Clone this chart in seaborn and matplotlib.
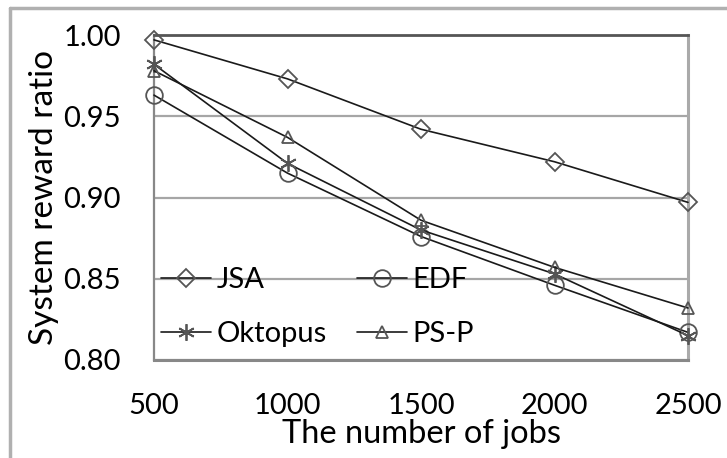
import matplotlib
matplotlib.use("Agg")
import matplotlib.pyplot as plt
import seaborn as sns
import pandas as pd
from matplotlib.lines import Line2D

jobs = [500, 1000, 1500, 2000, 2500]
jsa = [0.997, 0.973, 0.942, 0.922, 0.897]
edf = [0.963, 0.915, 0.876, 0.846, 0.817]
oktopus = [0.982, 0.921, 0.880, 0.853, 0.815]
psp = [0.978, 0.937, 0.886, 0.857, 0.832]

series = {"JSA": jsa, "EDF": edf, "Oktopus": oktopus, "PS-P": psp}
markers = {"JSA": "D", "EDF": "o", "Oktopus": (6, 2, 0), "PS-P": "^"}
msizes = {"JSA": 9, "EDF": 12, "Oktopus": 12, "PS-P": 9}

rows = []
for name, vals in series.items():
    for j, v in zip(jobs, vals):
        rows.append({"jobs": j, "ratio": v, "series": name})
df = pd.DataFrame(rows)

sns.set_theme(style="white")
plt.rcParams["font.family"] = ["Lato", "DejaVu Sans"]

fig = plt.figure(figsize=(7.27, 4.58), dpi=100)
ax = fig.add_axes([154 / 727, 1 - 360 / 458, (688 - 154) / 727, (360 - 35) / 458])

for name in series:
    sub = df[df["series"] == name]
    sns.lineplot(data=sub, x="jobs", y="ratio", ax=ax, color="#1a1a1a", lw=1.2,
                 marker=markers[name], markersize=msizes[name], mfc="none",
                 mec="#555555", mew=1.3, label=name, clip_on=False, zorder=3)

ax.set_xlim(500, 2500)
ax.set_ylim(0.80, 1.00)
ax.set_xticks(jobs)
ax.set_yticks([0.80, 0.85, 0.90, 0.95, 1.00])
ax.set_yticklabels(["0.80", "0.85", "0.90", "0.95", "1.00"])
ax.yaxis.grid(True, color="#a6a6a6", lw=1.6)
ax.set_axisbelow(True)
ax.tick_params(axis="x", direction="in", length=6, width=1.5, color="#c0c0c0",
               pad=24, labelsize=21, labelcolor="black")
ax.tick_params(axis="y", length=0, pad=24, labelsize=21, labelcolor="black")

for s, c, w in [("left", "#888888", 1.6), ("bottom", "#888888", 2.2),
                ("right", "#aaaaaa", 2.2), ("top", "#555555", 2.0)]:
    ax.spines[s].set_visible(True)
    ax.spines[s].set_color(c)
    ax.spines[s].set_linewidth(w)

ax.set_xlabel("The number of jobs", fontsize=23.5, color="black", labelpad=0)
ax.set_ylabel("System reward ratio", fontsize=24, color="black", labelpad=3)

handles, labels = ax.get_legend_handles_labels()
order = [labels.index(n) for n in ["JSA", "Oktopus", "EDF", "PS-P"]]
leg = ax.legend([handles[i] for i in order], [labels[i] for i in order],
                ncol=2, loc="lower left", bbox_to_anchor=(-0.025, -0.022),
                frameon=False, fontsize=21, handlelength=1.7, handletextpad=0.2,
                columnspacing=1.05, labelspacing=0.95, borderpad=0.2)
for t in leg.get_texts():
    t.set_color("black")

fig.add_artist(Line2D([10 / 727, 10 / 727], [1 - 8 / 458, 0], transform=fig.transFigure,
                      color="#b0b0b0", lw=2.5))
fig.add_artist(Line2D([10 / 727, 1], [1 - 8 / 458, 1 - 8 / 458], transform=fig.transFigure,
                      color="#b0b0b0", lw=2.5))

fig.savefig("out.png", dpi=100)
